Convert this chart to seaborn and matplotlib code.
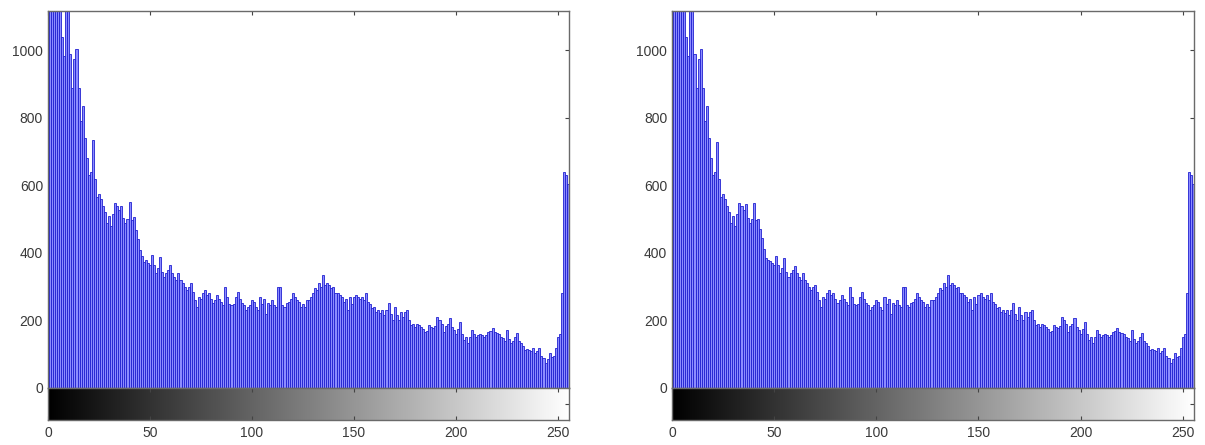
import matplotlib

matplotlib.use("Agg")
import matplotlib.pyplot as plt
import numpy as np
import seaborn as sns

# gray levels 0..255 and counts
levels = list(range(256))

counts_left = [
    1150, 1170, 1120, 1160, 1140, 1150, 1130, 1040, 985, 1160, 1170, 990, 890, 975, 1005, 890,
    790, 835, 740, 680, 630, 640, 735, 620, 565, 575, 560, 540, 520, 490, 510, 480,
    515, 548, 540, 527, 540, 505, 490, 500, 551, 498, 508, 468, 440, 409, 390, 374,
    380, 370, 365, 394, 364, 340, 355, 389, 345, 329, 340, 350, 364, 340, 329, 320,
    340, 320, 311, 300, 290, 300, 311, 285, 260, 240, 270, 265, 280, 290, 275, 281,
    265, 251, 260, 276, 265, 255, 245, 300, 270, 250, 245, 250, 270, 285, 265, 251,
    245, 230, 241, 245, 260, 255, 240, 231, 270, 250, 265, 220, 251, 245, 260, 245,
    240, 300, 300, 245, 240, 251, 255, 265, 281, 270, 261, 255, 241, 250, 240, 261,
    262, 270, 280, 296, 290, 311, 300, 335, 305, 311, 305, 295, 300, 281, 280, 276,
    270, 255, 265, 230, 270, 250, 270, 275, 270, 265, 270, 261, 280, 255, 250, 236,
    240, 226, 230, 221, 230, 215, 231, 251, 220, 201, 240, 216, 200, 226, 210, 226,
    230, 200, 187, 190, 181, 190, 187, 180, 175, 166, 170, 187, 180, 178, 185, 211,
    201, 190, 166, 185, 190, 207, 180, 171, 160, 175, 196, 160, 142, 150, 133, 150,
    171, 160, 150, 158, 160, 158, 150, 158, 165, 170, 178, 165, 163, 160, 150, 148,
    140, 171, 145, 133, 140, 150, 163, 140, 133, 125, 113, 115, 113, 110, 118, 105,
    110, 118, 95, 89, 74, 85, 103, 93, 95, 118, 150, 160, 280, 640, 630, 605,
]

counts_right = [
    1150, 1170, 1120, 1160, 1140, 1150, 1130, 1040, 985, 1160, 1170, 990, 890, 975, 1005, 890,
    790, 835, 740, 680, 630, 640, 730, 620, 565, 575, 560, 540, 520, 490, 510, 480,
    515, 548, 540, 527, 545, 505, 490, 500, 548, 498, 500, 470, 445, 412, 385, 380,
    375, 370, 365, 390, 364, 340, 355, 385, 345, 329, 340, 350, 360, 340, 329, 320,
    340, 320, 311, 300, 290, 300, 305, 285, 260, 240, 270, 265, 280, 290, 275, 281,
    265, 251, 260, 276, 265, 255, 245, 300, 270, 250, 245, 250, 270, 285, 265, 251,
    245, 230, 241, 245, 260, 255, 240, 231, 270, 250, 265, 220, 251, 245, 260, 245,
    240, 300, 300, 245, 240, 251, 255, 265, 281, 270, 261, 255, 241, 250, 240, 261,
    262, 270, 280, 296, 290, 311, 300, 335, 305, 311, 305, 295, 300, 281, 280, 276,
    270, 255, 265, 230, 270, 250, 275, 280, 270, 265, 275, 261, 280, 255, 250, 236,
    240, 226, 230, 221, 230, 215, 231, 251, 220, 201, 240, 216, 200, 226, 210, 226,
    230, 200, 187, 190, 181, 190, 187, 180, 175, 166, 170, 187, 180, 178, 185, 211,
    201, 190, 166, 185, 190, 207, 180, 171, 160, 175, 196, 160, 142, 150, 133, 150,
    171, 160, 150, 158, 160, 158, 150, 158, 165, 170, 178, 165, 163, 160, 150, 148,
    140, 171, 145, 133, 140, 150, 163, 140, 133, 125, 113, 115, 113, 110, 118, 105,
    110, 118, 95, 89, 74, 85, 103, 93, 95, 118, 150, 160, 280, 640, 630, 605,
]

x_ticks = [0, 50, 100, 150, 200, 250]
y_ticks = [0, 200, 400, 600, 800, 1000]

sns.set_style("white")
plt.rcParams["font.family"] = ["Liberation Sans", "DejaVu Sans"]

fig = plt.figure(figsize=(12.05, 4.45), dpi=100)

frame_color = "#6a6a6a"
text_color = "#3a3a3a"
bar_face = "#8c8cff"
bar_edge = "#2020d0"


def draw_hist(left, width, counts):
    ax = fig.add_axes([left, 0.1281, width, 0.8472])
    strip = fig.add_axes([left, 0.0562, width, 0.0719])

    sns.barplot(
        x=levels,
        y=counts,
        color=bar_face,
        saturation=1,
        width=1.0,
        edgecolor=bar_edge,
        linewidth=0.6,
        native_scale=True,
        ax=ax,
    )
    ax.set_xlim(0, 255.5)
    ax.set_ylim(0, 1117)
    ax.set_xticks(x_ticks)
    ax.set_xticklabels([])
    ax.set_yticks(y_ticks)
    ax.set_yticklabels([str(t) for t in y_ticks], fontsize=10, color=text_color)
    ax.tick_params(direction="in", length=3, color="#444444",
                   top=True, bottom=False, right=True, left=True)
    ax.set_xlabel("")
    ax.set_ylabel("")

    # gray level bar under the histogram
    strip.imshow(np.array(levels)[None, :], cmap="gray", aspect="auto",
                 extent=(-0.5, 255.5, 0, 1), vmin=0, vmax=255)
    strip.set_xlim(0, 255.5)
    strip.set_ylim(0, 1)
    strip.set_xticks(x_ticks)
    strip.set_xticklabels([str(t) for t in x_ticks], fontsize=10, color=text_color)
    strip.set_yticks([0.5])
    strip.set_yticklabels([])
    strip.tick_params(direction="in", length=3, color="#444444",
                      top=True, bottom=True, right=True, left=False, pad=4)

    for a in (ax, strip):
        for sp in a.spines.values():
            sp.set_color(frame_color)
            sp.set_linewidth(1)


draw_hist(0.0398, 0.4324, counts_left)
draw_hist(0.5577, 0.4332, counts_right)

fig.savefig("out.png", dpi=100)
